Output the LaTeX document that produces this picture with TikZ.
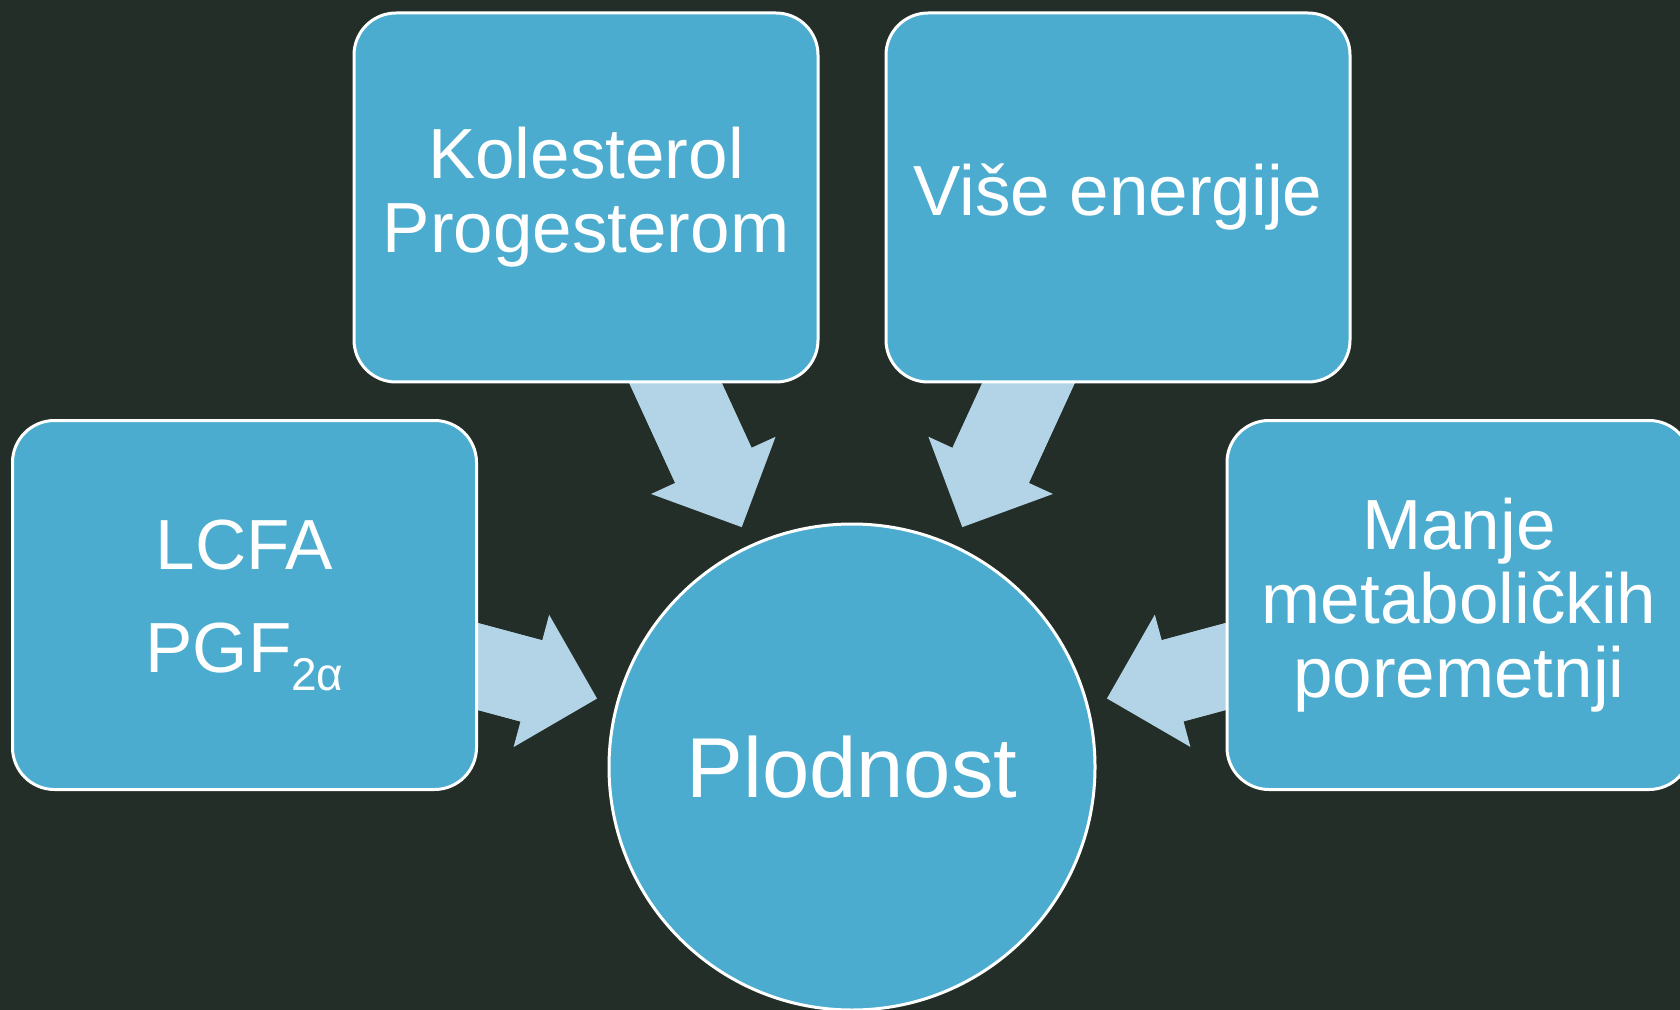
\documentclass[tikz,border=0pt]{standalone}
\usepackage{fontspec}
\setmainfont{Liberation Sans}
\usetikzlibrary{arrows.meta,calc}
\definecolor{bgdark}{HTML}{242E29}
\definecolor{boxblue}{HTML}{4BACCF}
\definecolor{arrowblue}{HTML}{B2D4E6}
\pgfdeclarelayer{back}
\pgfdeclarelayer{background}
\pgfsetlayers{back,background,main}

\begin{document}
\begin{tikzpicture}[
  x=0.5pt, y=-0.5pt,
  box/.style={draw=white, line width=1.5pt, fill=boxblue, rounded corners=21pt,
              minimum width=232pt, minimum height=184.5pt, inner sep=0pt,
              align=center, text=white, font=\fontsize{35.5}{37}\selectfont},
  hub/.style={circle, draw=white, line width=1.5pt, fill=boxblue, minimum size=243pt,
              inner sep=0pt, text=white, font=\fontsize{42.5}{44}\selectfont},
  blk/.style={arrowblue, line width=42pt,
              -{Triangle[length=34pt,width=68.5pt,line width=0pt]}, shorten >=132pt,
              postaction={draw, -, shorten >=156pt}},
]
\useasboundingbox (0,0) rectangle (1680,1010);
\begin{pgfonlayer}{back}
  \fill[bgdark] (0,0) rectangle (1680,1010);
\end{pgfonlayer}

% ---------- boxes ----------
\node[box] (kol)   at (586,197.5)  {Kolesterol\\Progesterom};
\node[box] (vise)  at (1118,197.5) {Više energije};
\node[box] (lcfa)  at (244.5,605)  {LCFA\\[14.5pt]PGF\raisebox{-9pt}{\fontsize{23}{23}\selectfont 2α}};
\node[box] (manje) at (1459,605)   {Manje\\metaboličkih\\poremetnji};
\node[hub] (plod)  at (852,767)    {Plodnost};

% ---------- block arrows ----------
\begin{pgfonlayer}{background}
  \draw[blk] ($(kol.south)+(75,-32)$)    -- (plod.center);
  \draw[blk] ($(vise.south)+(-75,-32)$)  -- (plod.center);
  \draw[blk] ($(lcfa.east)+(-30,53.5)$)  -- (plod.center);
  \draw[blk] ($(manje.west)+(30,53.5)$)  -- (plod.center);
\end{pgfonlayer}
\end{tikzpicture}
\end{document}
